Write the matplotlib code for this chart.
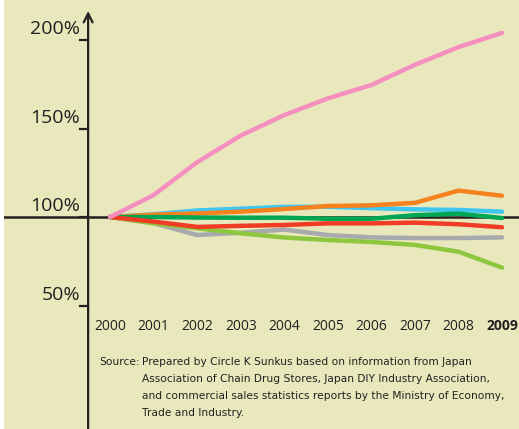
import matplotlib.pyplot as plt
from matplotlib import font_manager

# --- data (% of 2000 level) ---
years = [2000, 2001, 2002, 2003, 2004, 2005, 2006, 2007, 2008, 2009]

pink = [100, 112.4, 131, 146, 157.6, 167, 174.6, 186, 196, 204]
orange = [100, 101.3, 102, 103, 104.5, 106.2, 106.6, 108, 114.9, 112]
cyan = [100, 101.5, 103.7, 104.7, 105.7, 105.8, 105, 104.3, 104, 103]
green = [100, 100, 99.7, 99.6, 99.6, 99, 99, 101, 101.9, 99.4]
red = [100, 97.4, 94.4, 95, 95.5, 96.4, 96.4, 96.8, 95.9, 94.2]
gray = [100, 96.5, 89.8, 91.1, 92.9, 89.8, 88.5, 88.1, 88.1, 88.5]
lightgreen = [100, 96.4, 93.6, 90.8, 88.4, 87, 85.9, 84.2, 80.4, 71.4]

ytick_vals = [50, 100, 150, 200]
ytick_labels = ['50%', '100%', '150%', '200%']

source_lines = [
    "Prepared by Circle K Sunkus based on information from Japan",
    "Association of Chain Drug Stores, Japan DIY Industry Association,",
    "and commercial sales statistics reports by the Ministry of Economy,",
    "Trade and Industry.",
]

BG = '#e9e8bd'

# pick a narrow font for the source note if one is installed
installed = {f.name for f in font_manager.fontManager.ttflist}
src_font = 'DejaVu Sans'
src_size = 7.7
for cand in ['Liberation Sans Narrow', 'DejaVu Sans Condensed']:
    if cand in installed:
        src_font = cand
        src_size = 8.5
        break

fig = plt.figure(figsize=(5.19, 4.29), dpi=100)
fig.patch.set_facecolor('white')
ax = fig.add_axes([0.008, 0, 0.992, 1])
ax.set_facecolor(BG)
ax.axis('off')
ax.add_patch(plt.Rectangle((0, 0), 1, 1, transform=ax.transAxes, color=BG, zorder=0))

# pixel -> data mapping: 2000 at x=110, 43.56 px per year; 100% at y=217, 1.77 px per %
px_year = 43.56
px_pct = 1.77
ax.set_xlim(2000 - 106 / px_year, 2000 + 409 / px_year)
ax.set_ylim(100 - 212 / px_pct, 100 + 217 / px_pct)

axis_x = 2000 - 22 / px_year

# baseline at 100%
ax.axhline(100, color='#231f20', lw=1.8, zorder=2)

# vertical axis with arrow
ax.annotate('', xy=(axis_x, 100 + 206 / px_pct), xytext=(axis_x, -30),
            arrowprops=dict(arrowstyle='->', color='#231f20', lw=1.6,
                            mutation_scale=16, shrinkA=0, shrinkB=0), zorder=3)

# ticks and labels
for v, lab in zip(ytick_vals, ytick_labels):
    ax.plot([axis_x - 8 / px_year, axis_x], [v, v], color='#231f20', lw=1.6, zorder=3)
    ax.text(axis_x - 8 / px_year, v + 1.0, lab, ha='right', va='bottom',
            fontsize=14, family='Open Sans', color='#231f20')

# series
series = [
    (gray, '#a7a9ac'),
    (lightgreen, '#8dc63f'),
    (cyan, '#3ec6f0'),
    (orange, '#f5821f'),
    (green, '#00a651'),
    (red, '#f03c24'),
    (pink, '#f48fc0'),
]
for vals, col in series:
    ax.plot(years, vals, color=col, lw=3.2, solid_capstyle='round',
            solid_joinstyle='round', zorder=4)

# year labels
label_y = 100 - 109 / px_pct
for yr in years:
    ax.text(yr, label_y, str(yr), ha='center', va='center', fontsize=10,
            family='Open Sans', color='#231f20',
            fontweight='bold' if yr == 2009 else 'normal')

# source note
x_src = 2000 + 30 / px_year
x_txt = 2000 + 32 / px_year
y0 = 100 - 145 / px_pct
for i, line in enumerate(source_lines):
    yy = y0 - i * 17 / px_pct
    if i == 0:
        ax.text(x_src, yy, 'Source:', ha='right', va='center', fontsize=src_size,
                family=src_font, color='#231f20')
    ax.text(x_txt, yy, line, ha='left', va='center', fontsize=src_size,
            family=src_font, color='#231f20')

fig.savefig('out.png', dpi=100, facecolor='white')
